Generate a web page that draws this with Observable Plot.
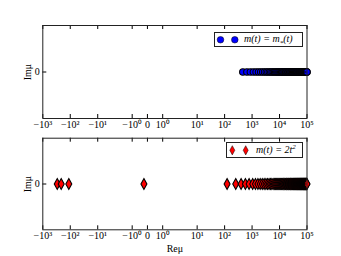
<!DOCTYPE html>
<html><head><meta charset="utf-8">
<script src="https://cdn.jsdelivr.net/npm/d3@7"></script>
<script src="https://cdn.jsdelivr.net/npm/@observablehq/plot@0.6"></script>
<style>
body{margin:0;background:#fff;}
#c{position:relative;width:341px;height:256px;font-family:"Liberation Serif",serif;overflow:hidden;}
#c svg.plot{display:block;}
.legend{position:absolute;border:1px solid #222;background:#fff;box-sizing:border-box;}
.legend svg{position:absolute;left:0;top:0;}
.legend span{position:absolute;font-size:10px;font-style:italic;white-space:nowrap;font-family:"Liberation Serif",serif;}
</style></head><body><div id="c"></div>
<script>
// x tick values and labels
const xTicks = [-1000, -100, -10, -1, 0, 1, 10, 100, 1000, 10000, 100000];
const xTickLabels = ["−10³", "−10²", "−10¹", "−10⁰", "0", "10⁰", "10¹", "10²", "10³", "10⁴", "10⁵"];
const xDomain = [-1000, 100000];
const yTicks = [0];
const yTickLabels = ["0"];

// top panel: m(t) = m_*(t), eigenvalues (real parts), imaginary part 0
const topRe = [462, 650, 870, 1122, 1406, 1722, 2070, 2450, 2862, 3306, 3782, 4290, 4830, 5402, 6006, 6642, 7310, 8010, 8742, 9506, 10302, 11130, 11990, 12882, 13806, 14762, 15750, 16770, 17822, 18906, 20022, 21170, 22350, 23562, 24806, 26082, 27390, 28730, 30102, 31506, 32942, 34410, 35910, 37442, 39006, 40602, 42230, 43890, 45582, 47306, 49062, 50850, 52670, 54522, 56406, 58322, 60270, 62250, 64262, 66306, 68382, 70490, 72630, 74802, 77006, 79242, 81510, 83810, 86142, 88506, 90902, 93330, 95790, 98282, 100000];
// bottom panel: m(t) = 2t^2
const botRe = [-298, -214, -113, -0.23, 123, 254, 398, 570, 778, 1050, 1325, 1632, 1971, 2343, 2746, 3181, 3648, 4147, 4679, 5242, 5837, 6464, 7123, 7815, 8538, 9293, 10080, 10899, 11751, 12634, 13549, 14496, 15475, 16487, 17530, 18605, 19712, 20851, 22023, 23226, 24461, 25728, 27027, 28359, 29722, 31117, 32544, 34003, 35495, 37018, 38573, 40160, 41779, 43431, 45114, 46829, 48576, 50355, 52167, 54010, 55885, 57792, 59731, 61703, 63706, 65741, 67808, 69907, 72039, 74202, 76397, 78624, 80883, 83175, 85498, 87853, 90240, 92659, 95111, 97594, 99982];

const topLegend = "m(t) = m<sub style='font-size:7px'>*</sub>(t)";
const botLegend = "m(t) = 2t<sup style='font-size:7px'>2</sup>";

// matplotlib-style symlog transform (linthresh 2, linscale 1, base 10)
const LT = 2, ADJ = 1 / (1 - 1 / 10);
function symlog(v) {
  const a = Math.abs(v);
  return a <= LT ? v * ADJ : Math.sign(v) * LT * (ADJ + Math.log10(a / LT));
}
const xPos = xTicks.map(symlog);
const labelOf = new Map(xPos.map((p, i) => [p, xTickLabels[i]]));
const yLabelOf = new Map(yTicks.map((p, i) => [p, yTickLabels[i]]));

const W = 341, ML = 42.3, MR = 34.5;

const thinDiamond = {
  draw(ctx, size) {
    const h = Math.sqrt(size) * 0.85, w = h * 0.55;
    ctx.moveTo(0, -h); ctx.lineTo(w, 0); ctx.lineTo(0, h); ctx.lineTo(-w, 0); ctx.closePath();
  }
};

function panel({data, H, mt, mb, symbol, fill, r, sw, xlabel}) {
  const ph = H - mt - mb, pw = W - ML - MR;
  const marks = [
    Plot.dot(data, {x: d => symlog(d), y: 0, r, symbol, fill, stroke: "#000", strokeWidth: sw}),
    Plot.tickX(xPos, {x: d => d, insetTop: ph - 4, stroke: "#000"}),
    Plot.tickX(xPos, {x: d => d, insetBottom: ph - 4, stroke: "#000"}),
    Plot.tickY(yTicks, {y: d => d, insetRight: pw - 4, stroke: "#000"}),
    Plot.tickY(yTicks, {y: d => d, insetLeft: pw - 4, stroke: "#000"}),
    Plot.axisX({anchor: "bottom", ticks: xPos, tickSize: 0, tickPadding: 2, tickFormat: v => labelOf.get(v),
      fontSize: 10, label: xlabel, labelAnchor: "center", labelArrow: "none", labelOffset: 22}),
    Plot.axisY({anchor: "left", ticks: yTicks, tickSize: 0, tickPadding: 3, tickFormat: v => yLabelOf.get(v),
      fontSize: 10, label: "Imμ", labelAnchor: "center", labelArrow: "none", labelOffset: 19}),
    Plot.frame({stroke: "#222", strokeWidth: 1})
  ];
  return Plot.plot({
    width: W, height: H,
    marginLeft: ML, marginRight: MR, marginTop: mt, marginBottom: mb,
    x: {domain: xDomain.map(symlog)},
    y: {domain: [-1, 1]},
    style: {fontFamily: "Liberation Serif, serif", fontSize: "10px", background: "transparent", color: "#000"},
    marks
  });
}

const c = document.getElementById("c");
c.appendChild(panel({data: topRe, H: 134, mt: 25, mb: 16, symbol: "circle", fill: "#0000ff", r: 3.3, sw: 1.05, xlabel: null}));
c.appendChild(panel({data: botRe, H: 122, mt: 3.7, mb: 26.7, symbol: thinDiamond, fill: "#ff0000", r: 3.6, sw: 1.1, xlabel: "Reμ"}));

function legend({left, top, width, height, symbolSvg, html, textLeft}) {
  const d = document.createElement("div");
  d.className = "legend";
  Object.assign(d.style, {left: left + "px", top: top + "px", width: width + "px", height: height + "px"});
  d.innerHTML = `<svg width="${width}" height="${height}">${symbolSvg}</svg><span style="left:${textLeft}px;top:${height / 2 - 7.5}px">${html}</span>`;
  c.appendChild(d);
}
const cy1 = 15.5 / 2 - 1;
legend({left: 214, top: 31.5, width: 88.5, height: 15.5, textLeft: 29,
  symbolSvg: `<circle cx="5.5" cy="${cy1}" r="3.3" fill="#0000ff" stroke="#000" stroke-width="0.5"/><circle cx="19.8" cy="${cy1}" r="3.3" fill="#0000ff" stroke="#000" stroke-width="0.5"/>`,
  html: topLegend});
const cy2 = 16.6 / 2 - 1;
const dia = x => `<path d="M${x},${cy2 - 4.6}L${x + 2.5},${cy2}L${x},${cy2 + 4.6}L${x - 2.5},${cy2}Z" fill="#ff0000" stroke="#000" stroke-width="0.5"/>`;
legend({left: 226, top: 141.7, width: 76.5, height: 16.6, textLeft: 29,
  symbolSvg: dia(5.3) + dia(18.7),
  html: botLegend});
</script>
</body></html>
